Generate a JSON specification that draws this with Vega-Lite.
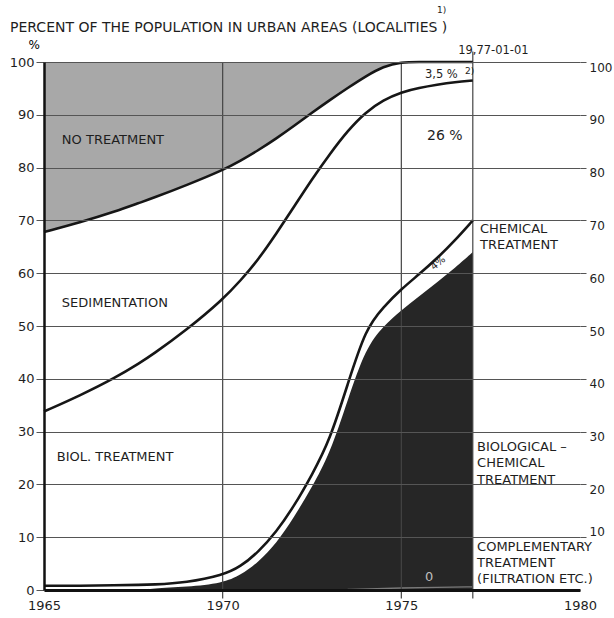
{
  "$schema": "https://vega.github.io/schema/vega-lite/v6.json",
  "width": 536,
  "height": 528,
  "autosize": {"type": "none"},
  "padding": {"left": 44, "top": 62, "right": 34, "bottom": 28},
  "background": "#ffffff",
  "config": {
    "view": {"stroke": null},
    "font": "DejaVu Sans",
    "text": {"font": "DejaVu Sans", "fill": "#1e1e1e"},
    "axis": {"labelFont": "DejaVu Sans", "labelColor": "#1e1e1e", "labelFontSize": 13}
  },
  "datasets": {
    "curves": [
      {"year": 1965, "bc": 0, "chem": 0.8, "biol": 33.8, "sed": 67.8},
      {"year": 1966, "bc": 0, "chem": 0.8, "biol": 36.8, "sed": 69.6},
      {"year": 1967, "bc": 0, "chem": 0.9, "biol": 40.2, "sed": 71.7},
      {"year": 1967.7, "bc": 0, "chem": 0.97, "biol": 43.1, "sed": 73.4},
      {"year": 1968, "bc": 0.3, "chem": 1.0, "biol": 44.4, "sed": 74.1},
      {"year": 1969, "bc": 0.6, "chem": 1.4, "biol": 49.3, "sed": 76.7},
      {"year": 1970, "bc": 1.3, "chem": 2.8, "biol": 55.0, "sed": 79.5},
      {"year": 1970.5, "bc": 2.8, "chem": 4.4, "biol": 58.6, "sed": 81.3},
      {"year": 1971, "bc": 5.3, "chem": 7.2, "biol": 62.6, "sed": 83.3},
      {"year": 1971.5, "bc": 8.8, "chem": 11.0, "biol": 67.5, "sed": 85.5},
      {"year": 1972, "bc": 13.8, "chem": 15.9, "biol": 72.6, "sed": 87.9},
      {"year": 1972.5, "bc": 19.5, "chem": 21.8, "biol": 77.8, "sed": 90.4},
      {"year": 1973, "bc": 25.8, "chem": 28.4, "biol": 82.6, "sed": 92.8},
      {"year": 1973.5, "bc": 36.0, "chem": 39.0, "biol": 87.0, "sed": 95.1},
      {"year": 1974, "bc": 45.8, "chem": 49.5, "biol": 90.5, "sed": 97.3},
      {"year": 1974.5, "bc": 50.0, "chem": 53.6, "biol": 92.8, "sed": 99.2},
      {"year": 1975, "bc": 53.0, "chem": 57.0, "biol": 94.3, "sed": 100},
      {"year": 1975.5, "bc": 55.6, "chem": 59.8, "biol": 95.1, "sed": 100},
      {"year": 1976, "bc": 58.3, "chem": 62.8, "biol": 95.7, "sed": 100},
      {"year": 1976.5, "bc": 61.0, "chem": 66.2, "biol": 96.2, "sed": 100},
      {"year": 1977, "bc": 64.0, "chem": 70.0, "biol": 96.5, "sed": 100}
    ],
    "complementary": [
      {"year": 1973.5, "c": 0.1},
      {"year": 1974, "c": 0.2},
      {"year": 1975, "c": 0.4},
      {"year": 1976, "c": 0.5},
      {"year": 1977, "c": 0.6}
    ],
    "vlines": [
      {"year": 1970, "top": 100},
      {"year": 1975, "top": 100},
      {"year": 1977, "top": 102}
    ],
    "labels": [
      {"year": 1965.5, "v": 85.2, "text": "NO TREATMENT"},
      {"year": 1965.5, "v": 54.3, "text": "SEDIMENTATION"},
      {"year": 1965.36, "v": 25.2, "text": "BIOL. TREATMENT"},
      {"year": 1977.2, "v": 68.4, "text": "CHEMICAL"},
      {"year": 1977.2, "v": 65.3, "text": "TREATMENT"},
      {"year": 1977.12, "v": 27.1, "text": "BIOLOGICAL –"},
      {"year": 1977.12, "v": 24.1, "text": "CHEMICAL"},
      {"year": 1977.12, "v": 20.9, "text": "TREATMENT"},
      {"year": 1977.12, "v": 8.1, "text": "COMPLEMENTARY"},
      {"year": 1977.12, "v": 5.1, "text": "TREATMENT"},
      {"year": 1977.12, "v": 2.1, "text": "(FILTRATION ETC.)"}
    ],
    "notes": [
      {"year": 1976.59, "v": 102.0, "text": "19,77-01-01"},
      {"year": 1975.66, "v": 97.5, "text": "3,5 %"}
    ],
    "supers": [
      {"year": 1976.0, "v": 109.8, "text": "1)"},
      {"year": 1976.78, "v": 98.3, "text": "2)"}
    ]
  },
  "layer": [
    {
      "data": {"name": "curves"},
      "mark": {"type": "area", "interpolate": "basis", "color": "#6e6e6e", "opacity": 0.6},
      "encoding": {
        "x": {
          "field": "year", "type": "quantitative",
          "scale": {"domain": [1965, 1980], "nice": false, "zero": false},
          "axis": {
            "values": [1965, 1970, 1975, 1980], "format": "d", "ticks": false, "grid": false,
            "labelFlush": false, "domainColor": "#111111", "domainWidth": 3,
            "labelPadding": 9, "title": null, "zindex": 1
          }
        },
        "y": {
          "field": "sed", "type": "quantitative",
          "scale": {"domain": [0, 100], "nice": false},
          "axis": {
            "orient": "left", "values": [0, 10, 20, 30, 40, 50, 60, 70, 80, 90, 100],
            "grid": true, "gridColor": "#555555", "gridWidth": 1,
            "tickSize": 8, "tickColor": "#555555", "labelPadding": 2,
            "domainColor": "#111111", "domainWidth": 2.5,
            "title": "%", "titleAngle": 0, "titleAlign": "left", "titleBaseline": "alphabetic",
            "titleX": -16, "titleY": -14, "titleFontSize": 12, "titleFontWeight": "normal", "titleFont": "DejaVu Sans",
            "zindex": 1
          }
        },
        "y2": {"datum": 100}
      }
    },
    {
      "data": {"name": "curves"},
      "mark": {"type": "area", "interpolate": "basis", "color": "#262626"},
      "encoding": {
        "x": {"field": "year", "type": "quantitative", "title": null},
        "y": {"field": "bc", "type": "quantitative", "axis": null},
        "y2": {"datum": 0}
      }
    },
    {
      "data": {"name": "complementary"},
      "mark": {"type": "line", "interpolate": "basis", "color": "#7a7a7a", "strokeWidth": 1.3},
      "encoding": {
        "x": {"field": "year", "type": "quantitative", "title": null},
        "y": {"field": "c", "type": "quantitative", "axis": null}
      }
    },
    {
      "data": {"name": "vlines"},
      "mark": {"type": "rule", "color": "#444444", "strokeWidth": 1.2},
      "encoding": {
        "x": {"field": "year", "type": "quantitative", "title": null},
        "y": {"field": "top", "type": "quantitative", "axis": null},
        "y2": {"datum": -1.6}
      }
    },
    {
      "data": {"name": "curves"},
      "mark": {"type": "line", "interpolate": "basis", "color": "#161616", "strokeWidth": 2.6},
      "encoding": {
        "x": {"field": "year", "type": "quantitative", "title": null},
        "y": {"field": "sed", "type": "quantitative", "axis": null}
      }
    },
    {
      "data": {"name": "curves"},
      "mark": {"type": "line", "interpolate": "basis", "color": "#161616", "strokeWidth": 2.6},
      "encoding": {
        "x": {"field": "year", "type": "quantitative", "title": null},
        "y": {
          "field": "biol", "type": "quantitative",
          "axis": {
            "orient": "right", "values": [10, 20, 30, 40, 50, 60, 70, 80, 90, 100],
            "grid": false, "domain": false, "tickSize": 6, "tickColor": "#555555",
            "labelFontSize": 12, "labelPadding": 3, "title": null,
            "labelOffset": {"condition": {"test": "datum.value === 10", "value": -6}, "value": 5}
          }
        }
      }
    },
    {
      "data": {"name": "curves"},
      "mark": {"type": "line", "interpolate": "basis", "color": "#161616", "strokeWidth": 2.6},
      "encoding": {
        "x": {"field": "year", "type": "quantitative", "title": null},
        "y": {"field": "chem", "type": "quantitative", "axis": null}
      }
    },
    {
      "mark": {"type": "rule", "color": "#161616", "strokeWidth": 2.2},
      "encoding": {
        "x": {"datum": 1965},
        "x2": {"datum": 1980},
        "y": {"datum": 100, "axis": null}
      }
    },
    {
      "mark": {"type": "rule", "color": "#222222", "strokeWidth": 1.6},
      "encoding": {
        "x": {"datum": 1980},
        "y": {"datum": 9.5, "axis": null},
        "y2": {"datum": 100}
      }
    },
    {
      "data": {"name": "labels"},
      "mark": {"type": "text", "align": "left", "baseline": "middle", "fontSize": 13, "color": "#1e1e1e"},
      "encoding": {
        "x": {"field": "year", "type": "quantitative", "title": null},
        "y": {"field": "v", "type": "quantitative", "axis": null},
        "text": {"field": "text"}
      }
    },
    {
      "data": {"name": "notes"},
      "mark": {"type": "text", "align": "left", "baseline": "middle", "fontSize": 11.5, "color": "#1e1e1e"},
      "encoding": {
        "x": {"field": "year", "type": "quantitative", "title": null},
        "y": {"field": "v", "type": "quantitative", "axis": null},
        "text": {"field": "text"}
      }
    },
    {
      "data": {"name": "supers"},
      "mark": {"type": "text", "align": "left", "baseline": "middle", "fontSize": 9, "color": "#1e1e1e"},
      "encoding": {
        "x": {"field": "year", "type": "quantitative", "title": null},
        "y": {"field": "v", "type": "quantitative", "axis": null},
        "text": {"field": "text"}
      }
    },
    {
      "data": {"values": [{"year": 1975.72, "v": 86.0, "text": "26 %"}]},
      "mark": {"type": "text", "align": "left", "baseline": "middle", "fontSize": 14, "color": "#1e1e1e"},
      "encoding": {
        "x": {"field": "year", "type": "quantitative", "title": null},
        "y": {"field": "v", "type": "quantitative", "axis": null},
        "text": {"field": "text"}
      }
    },
    {
      "data": {"values": [{"year": 1976.03, "v": 61.9, "text": "4%"}]},
      "mark": {"type": "text", "align": "center", "baseline": "middle", "fontSize": 10, "angle": -40, "color": "#1e1e1e"},
      "encoding": {
        "x": {"field": "year", "type": "quantitative", "title": null},
        "y": {"field": "v", "type": "quantitative", "axis": null},
        "text": {"field": "text"}
      }
    },
    {
      "data": {"values": [{"year": 1975.78, "v": 2.4, "text": "0"}]},
      "mark": {"type": "text", "align": "center", "baseline": "middle", "fontSize": 13, "color": "#bdbdbd"},
      "encoding": {
        "x": {"field": "year", "type": "quantitative", "title": null},
        "y": {"field": "v", "type": "quantitative", "axis": null},
        "text": {"field": "text"}
      }
    },
    {
      "data": {"values": [{"year": 1964.05, "v": 105.7, "text": "PERCENT OF THE POPULATION IN URBAN AREAS (LOCALITIES )"}]},
      "mark": {"type": "text", "align": "left", "baseline": "alphabetic", "fontSize": 14, "color": "#1e1e1e"},
      "encoding": {
        "x": {"field": "year", "type": "quantitative", "title": null},
        "y": {"field": "v", "type": "quantitative", "axis": null},
        "text": {"field": "text"}
      }
    }
  ],
  "resolve": {"axis": {"y": "independent"}}
}
